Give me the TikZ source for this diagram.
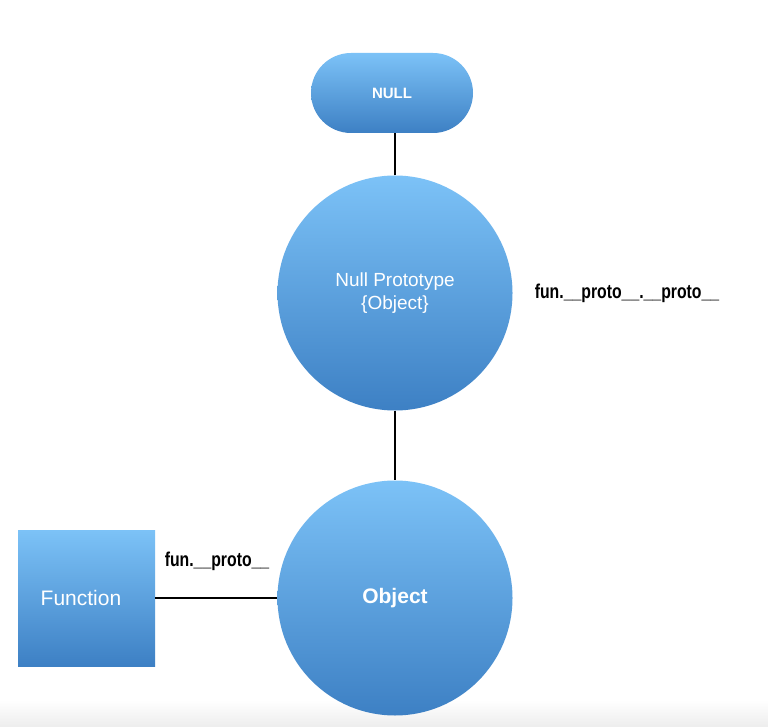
\documentclass[tikz,border=0pt]{standalone}
\usepackage{fontspec}
\setmainfont{Liberation Sans}
\usetikzlibrary{calc}
\definecolor{bluetop}{HTML}{7CC2F7}
\definecolor{bluebot}{HTML}{3D80C4}
\definecolor{shadegray}{HTML}{EDEDED}
\tikzset{
  blueshape/.style={top color=bluetop, bottom color=bluebot, draw=none, text=white, align=center, inner sep=0pt},
  roundcirc/.style={blueshape, circle, minimum size=235pt},
  pillbox/.style={blueshape, rectangle, rounded corners=40pt, minimum width=162pt, minimum height=80pt},
  squarebox/.style={blueshape, rectangle, minimum width=137pt, minimum height=136pt},
  conn/.style={line width=2.8pt, black},
  lbl/.style={font=\bfseries\fontsize{20}{22}\selectfont, inner sep=0pt}
}
\begin{document}
\begin{tikzpicture}[x=1pt,y=-1pt]
\useasboundingbox (0,0) rectangle (768,727);
\fill[white] (0,0) rectangle (768,727);
\shade[top color=white, bottom color=shadegray] (0,700) rectangle (768,727);

\node[pillbox, font=\bfseries\fontsize{15}{18}\selectfont] (null) at (392,93) {NULL};
\node[roundcirc, font=\fontsize{19}{23}\selectfont] (np) at (395,293) {Null Prototype\\\{Object\}};
\node[roundcirc, font=\bfseries\fontsize{21}{24}\selectfont] (obj) at (395,598) {Object};
\node[squarebox] (fn) at (86.5,598) {};
\node[text=white, font=\fontsize{21}{24}\selectfont, inner sep=0pt] (fntext) at (81,598) {Function};

\draw[conn] (np.north) -- (np.north |- null.south);
\draw[conn] (np.south) -- (obj.north);
\draw[conn] (fn.east) -- (obj.west);

\node[lbl] (l1) at (217,561) {\scalebox{0.79}[1]{fun.\_\_proto\_\_}};
\node[lbl] (l2) at (627,293) {\scalebox{0.79}[1]{fun.\_\_proto\_\_.\_\_proto\_\_}};
\end{tikzpicture}
\end{document}
